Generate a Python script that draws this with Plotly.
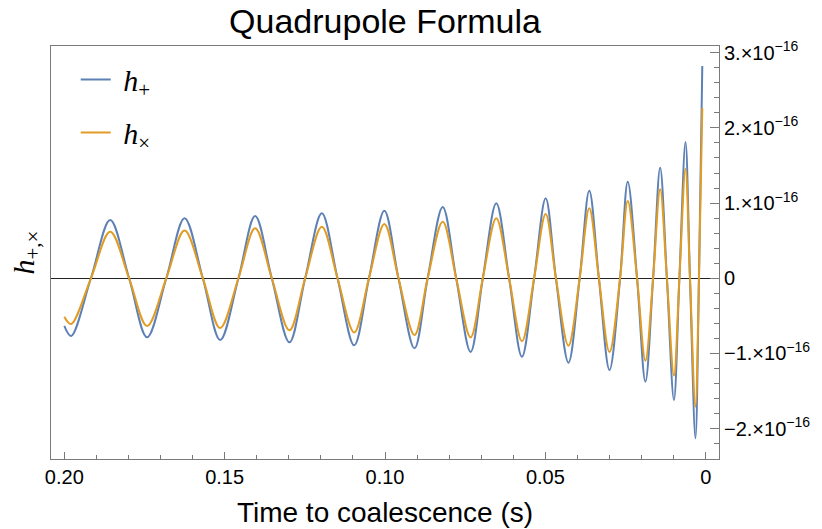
import plotly.graph_objects as go

# Time to coalescence (s) of read-off points: extrema and zero crossings
t_s = [0.2000, 0.1979, 0.1917, 0.1857, 0.1798, 0.1742, 0.1682, 0.1625, 0.1568, 0.1514,
       0.1457, 0.1405, 0.1353, 0.1298, 0.1249, 0.1197, 0.1148, 0.1096, 0.1050, 0.1002,
       0.0958, 0.0908, 0.0867, 0.0820, 0.0778, 0.0733, 0.0695, 0.0653, 0.0613, 0.0573,
       0.0535, 0.0499, 0.0467, 0.0428, 0.0393, 0.0363, 0.0333, 0.0300, 0.0267, 0.0243,
       0.0214, 0.0188, 0.0164, 0.0142, 0.0121, 0.0099, 0.0082, 0.0063, 0.0049, 0.0032,
       0.0021, 0.00106]

# h_plus in units of 1e-16
h_plus = [-0.634, -0.767, 0.0, 0.775, 0.0, -0.785, 0.0, 0.798, 0.0, -0.820,
          0.0, 0.828, 0.0, -0.851, 0.0, 0.864, 0.0, -0.891, 0.0, 0.899,
          0.0, -0.931, 0.0, 0.949, 0.0, -0.980, 0.0, 0.997, 0.0, -1.043,
          0.0, 1.064, 0.0, -1.122, 0.0, 1.165, 0.0, -1.219, 0.0, 1.285,
          0.0, -1.375, 0.0, 1.471, 0.0, -1.618, 0.0, 1.812, 0.0, -2.128,
          0.0, 2.823]

# h_cross in units of 1e-16
h_cross = [-0.511, -0.608, 0.0, 0.620, 0.0, -0.634, 0.0, 0.636, 0.0, -0.661,
           0.0, 0.665, 0.0, -0.691, 0.0, 0.686, 0.0, -0.720, 0.0, 0.722,
           0.0, -0.754, 0.0, 0.753, 0.0, -0.785, 0.0, 0.798, 0.0, -0.838,
           0.0, 0.855, 0.0, -0.896, 0.0, 0.931, 0.0, -0.980, 0.0, 1.028,
           0.0, -1.096, 0.0, 1.184, 0.0, -1.293, 0.0, 1.453, 0.0, -1.707,
           0.0, 2.265]

scale = 1e-16
y_tick_vals = [-2, -1, 0, 1, 2, 3]
y_tick_text = ["\u22122.\u00d710<sup>\u221216</sup>", "\u22121.\u00d710<sup>\u221216</sup>", "0",
               "1.\u00d710<sup>\u221216</sup>", "2.\u00d710<sup>\u221216</sup>", "3.\u00d710<sup>\u221216</sup>"]
x_tick_vals = [0.20, 0.15, 0.10, 0.05, 0.0]
x_tick_text = ["0.20", "0.15", "0.10", "0.05", "0"]

BLUE = "#5E81B5"
ORANGE = "#E19C24"
FRAME = "#7a7a7a"
SANS = "Liberation Sans, Arial, sans-serif"
SERIF = "Liberation Serif, Times New Roman, serif"

fig = go.Figure()
fig.add_trace(go.Scatter(x=t_s, y=[v * scale for v in h_plus], mode="lines",
                         name=" <i>h</i><sub>+</sub>", legendgroup="a",
                         line=dict(color=BLUE, width=2, shape="spline", smoothing=1.0)))
fig.add_trace(go.Scatter(x=t_s, y=[v * scale for v in h_cross], mode="lines",
                         name=" <i>h</i><sub>\u00d7</sub>", legendgroup="b",
                         line=dict(color=ORANGE, width=2, shape="spline", smoothing=1.0)))

fig.update_layout(
    width=822, height=529,
    margin=dict(l=51, r=103, t=46, b=70, autoexpand=False),
    plot_bgcolor="white", paper_bgcolor="white",
    font=dict(family=SANS, color="black", size=20),
    title=dict(text="Quadrupole Formula", x=(51 + 719) / 2 / 822, xanchor="center",
               y=1 - 21.5 / 529, yanchor="middle", yref="container",
               font=dict(family=SANS, size=34, color="black")),
    showlegend=True,
    legend=dict(x=0.037, y=0.982, xanchor="left", yanchor="top",
                bgcolor="rgba(0,0,0,0)", borderwidth=0,
                font=dict(family=SERIF, size=30, color="black"),
                tracegroupgap=11),
    xaxis=dict(range=[0.20415, -0.00415], showgrid=False, zeroline=False, automargin=False,
               showline=True, linecolor=FRAME, linewidth=1, mirror=True,
               ticks="inside", ticklen=7, tickcolor=FRAME, tickwidth=1,
               tickvals=x_tick_vals, ticktext=x_tick_text,
               tickfont=dict(size=20),
               minor=dict(ticks="inside", ticklen=4.5, tickcolor=FRAME, dtick=0.01, tick0=0, showgrid=False),
               title=dict(text="Time to coalescence (s)", font=dict(size=28), standoff=15)),
    yaxis=dict(range=[-2.403e-16, 3.089e-16], showgrid=False, side="right", automargin=False,
               zeroline=True, zerolinecolor="#222222", zerolinewidth=1,
               showline=True, linecolor=FRAME, linewidth=1, mirror=True,
               ticks="inside", ticklen=9, tickcolor=FRAME, tickwidth=1,
               tickvals=[v * scale for v in y_tick_vals], ticktext=y_tick_text,
               tickfont=dict(size=20),
               minor=dict(ticks="inside", ticklen=5, tickcolor=FRAME, dtick=0.2e-16, tick0=0, showgrid=False)),
)

fig.add_annotation(text="<i>h</i><sub>+,\u00d7</sub>", xref="paper", yref="paper",
                   x=-(51 - 25) / 668, y=0.5, xanchor="center", yanchor="middle",
                   textangle=-90, showarrow=False,
                   font=dict(family=SERIF, size=30, color="black"))

fig.write_html("out.html")
